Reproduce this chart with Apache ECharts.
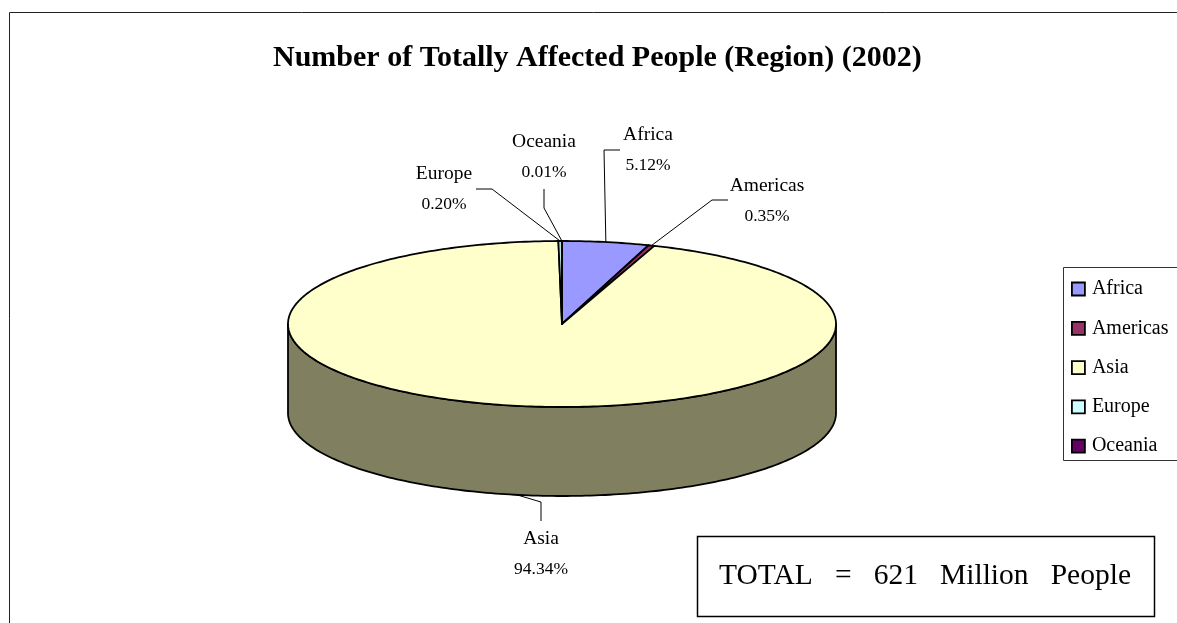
<!DOCTYPE html>
<html><head><meta charset="utf-8">
<style>html,body{margin:0;padding:0;background:#fff}#c{width:1177px;height:623px}</style>
<script src="https://cdn.jsdelivr.net/npm/echarts@6/dist/echarts.min.js"></script>
</head><body><div id="c"></div>
<script>
const regions = ['Africa','Americas','Asia','Europe','Oceania'];
const shares = [5.12,0.35,94.34,0.20,0.01];
const colors = ['#9999FF','#993366','#FFFFCC','#CCFFFF','#660066'];
const titleText = 'Number of Totally Affected People (Region) (2002)';
const totalText = 'TOTAL   =   621   Million   People';

const cx=562, cy=324, rx=274, ry=83, depth=89;
const sideColor='#808060';
const FONT='"Liberation Serif",serif';
// label placement: text centre and leader elbow path
const labelLayout = {
  Africa:{x:648,y:135,path:[[604,150],[620,150]]},
  Americas:{x:767,y:186,path:[[712,200],[728,200]]},
  Asia:{x:541,y:539,path:[[541,502],[541,521]]},
  Europe:{x:444,y:174,path:[[492,189],[476,189]]},
  Oceania:{x:544,y:142,path:[[544,208],[544,189]]}
};
const total=shares.reduce((a,b)=>a+b,0);
const pt=(deg,dy)=>{const r=deg*Math.PI/180;return [cx+rx*Math.sin(r),cy-ry*Math.cos(r)+(dy||0)];};
function arc(a,b,dy){const out=[];const n=Math.max(2,Math.ceil(Math.abs(b-a)));for(let i=0;i<=n;i++)out.push(pt(a+(b-a)*i/n,dy));return out;}

function slice(idx){
  return function(params,api){
    const before=shares.slice(0,idx).reduce((a,b)=>a+b,0);
    const a=before/total*360, b=a+api.value(0)/total*360, mid=(a+b)/2;
    const kids=[];
    const s=Math.max(a,90), e=Math.min(b,270);
    if(e>s){
      kids.push({type:'polygon',shape:{points:arc(s,e,0).concat(arc(e,s,depth))},
        style:{fill:sideColor,stroke:'#000',lineWidth:1.8,lineJoin:'round'}});
    }
    kids.push({type:'polygon',shape:{points:[[cx,cy]].concat(arc(a,b,0))},
      style:{fill:colors[idx],stroke:'#000',lineWidth:1.8,lineJoin:'round'}});
    const name=regions[idx], L=labelLayout[name];
    const start=pt(mid,(mid>90&&mid<270)?depth:0);
    kids.push({type:'polyline',shape:{points:[start].concat(L.path)},style:{fill:null,stroke:'#000',lineWidth:1}});
    kids.push({type:'text',style:{text:name,x:L.x,y:L.y,align:'center',verticalAlign:'middle',font:'19.5px '+FONT,fill:'#000'}});
    kids.push({type:'text',style:{text:api.value(0).toFixed(2)+'%',x:L.x,y:L.y+30,align:'center',verticalAlign:'middle',font:'17.5px '+FONT,fill:'#000'}});
    return {type:'group',children:kids};
  };
}

const chart=echarts.init(document.getElementById('c'),null,{renderer:'canvas'});
chart.setOption({
  animation:false,
  backgroundColor:'#fff',
  title:{text:titleText,left:273,top:43,padding:0,textStyle:{fontFamily:FONT,fontWeight:'bold',fontSize:30,color:'#000'}},
  legend:{orient:'vertical',left:1071,top:279,padding:0,itemWidth:13,itemHeight:13,itemGap:19.3,icon:'rect',selectedMode:false,
    data:regions,
    itemStyle:{borderColor:'#000',borderWidth:1.8},
    textStyle:{fontFamily:FONT,fontSize:20,color:'#000',lineHeight:20,padding:[0,0,0,2]}},
  graphic:[
    {type:'rect',z:-1,shape:{x:9.5,y:12.5,width:1300,height:800},style:{fill:'#fff',stroke:'#222',lineWidth:1}},
    {type:'rect',z:-1,shape:{x:1063.5,y:267.5,width:200,height:193},style:{fill:'#fff',stroke:'#333',lineWidth:1}},
    {type:'rect',z:5,shape:{x:697.5,y:536.5,width:457,height:80},style:{fill:'#fff',stroke:'#000',lineWidth:1.5}},
    {type:'text',z:6,style:{text:totalText,x:925,y:576,align:'center',verticalAlign:'middle',font:'29.5px '+FONT,fill:'#000'}}
  ],
  series:regions.map((n,i)=>({type:'custom',name:n,coordinateSystem:'none',renderItem:slice(i),
    itemStyle:{color:colors[i]},silent:true,data:[[shares[i]]]}))
});
</script></body></html>
